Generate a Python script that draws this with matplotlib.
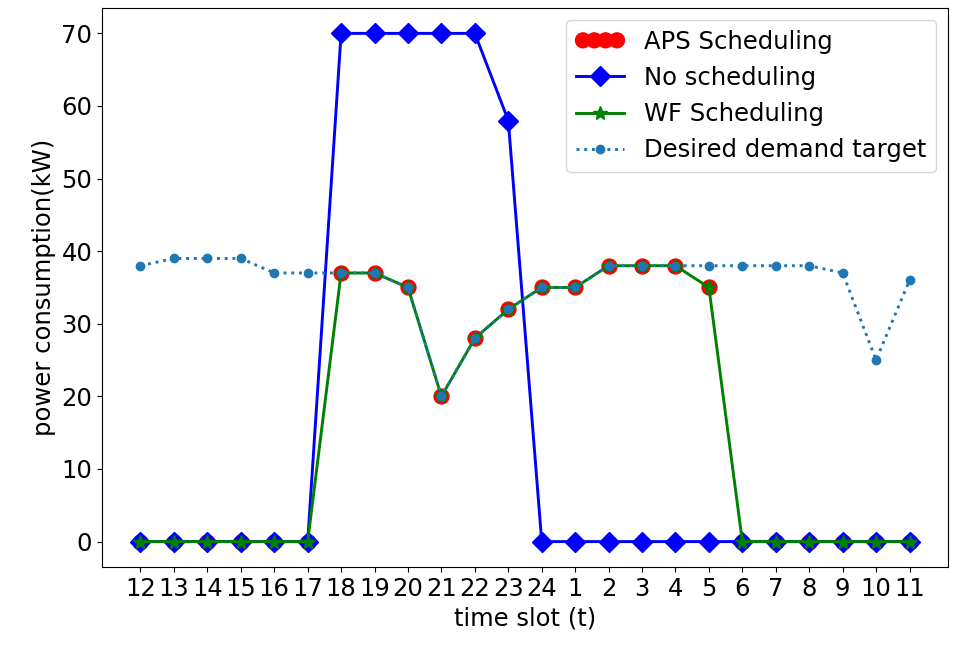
import matplotlib
matplotlib.use('Agg')
import matplotlib.pyplot as plt
import numpy as np

# time slots (hours, starting at noon)
slots = ['12', '13', '14', '15', '16', '17', '18', '19', '20', '21', '22', '23',
         '24', '1', '2', '3', '4', '5', '6', '7', '8', '9', '10', '11']

aps_sched = [0, 0, 0, 0, 0, 0, 37, 37, 35, 20, 28, 32,
             35, 35, 38, 38, 38, 35, 0, 0, 0, 0, 0, 0]
no_sched = [0, 0, 0, 0, 0, 0, 70, 70, 70, 70, 70, 58,
            0, 0, 0, 0, 0, 0, 0, 0, 0, 0, 0, 0]
wf_sched = [0, 0, 0, 0, 0, 0, 37, 37, 35, 20, 28, 32,
            35, 35, 38, 38, 38, 35, 0, 0, 0, 0, 0, 0]
target = [38, 39, 39, 39, 37, 37, 37, 37, 35, 20, 28, 32,
          35, 35, 38, 38, 38, 38, 38, 38, 38, 37, 25, 36]

x = np.arange(len(slots))

plt.rcParams['font.size'] = 17.5

fig = plt.figure(figsize=(9.59, 6.48), dpi=100)
ax = fig.add_axes([0.1064, 0.125, 0.8821, 0.8627])

ax.scatter(x, aps_sched, s=115, c='red', label='APS Scheduling')
ax.plot(x, no_sched, 'bD-', lw=2.1, ms=10, label='No scheduling')
ax.plot(x, wf_sched, 'g*-', lw=2.1, ms=10, label='WF Scheduling')
ax.plot(x, target, '.:', color='C0', lw=2.1, ms=12, label='Desired demand target')

ax.set_xticks(x)
ax.set_xticklabels(slots)
ax.set_yticks(np.arange(0, 71, 10))
ax.set_xlabel('time slot (t)')
ax.set_ylabel('power consumption(kW)')

ax.legend(loc='upper right', scatterpoints=4, scatteryoffsets=[0.5])

fig.savefig('out.png', dpi=100)
